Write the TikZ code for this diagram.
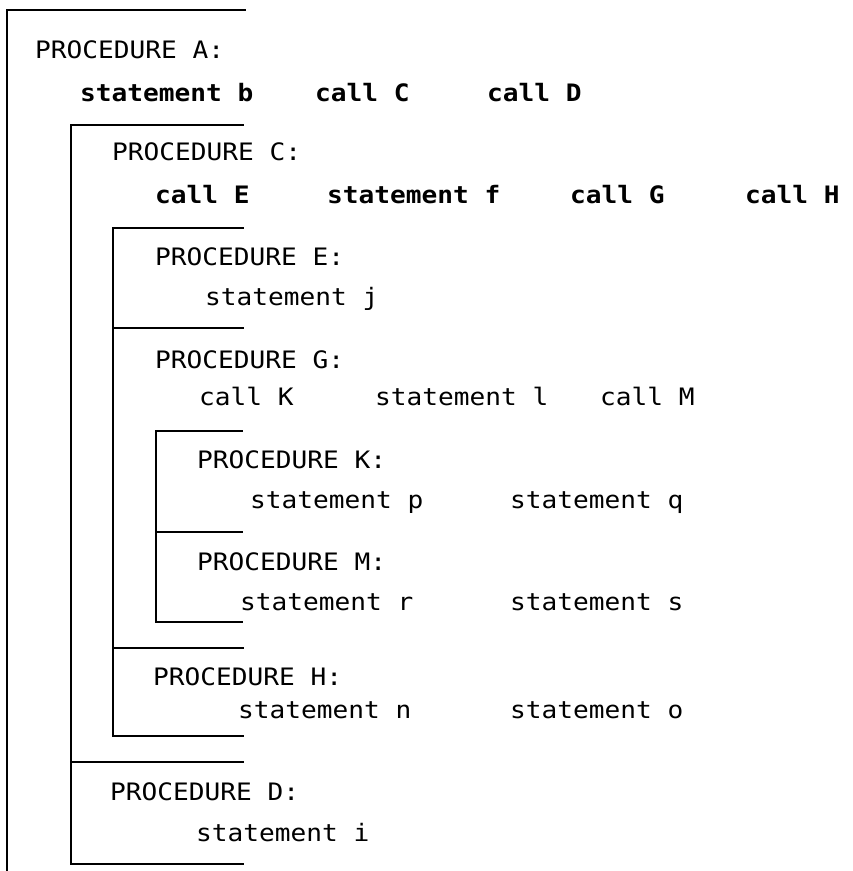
\documentclass[tikz,border=0pt]{standalone}
\usepackage{fontspec}
\setmonofont{DejaVu Sans Mono}[FakeStretch=1.09]
\tikzset{
  code/.style={anchor=base west, inner sep=0pt, font=\fontsize{24}{24}\selectfont\ttfamily},
  codeb/.style={code, font=\fontsize{24}{24}\selectfont\ttfamily\bfseries},
  rule/.style={line width=1.8pt, line cap=rect, line join=miter}
}
\begin{document}
\begin{tikzpicture}[x=1pt, y=-1pt]
\useasboundingbox (0,0) rectangle (853,871);

% nesting brackets
\draw[rule] (245,10) -- (7,10) -- (7,871);
\draw[rule] (243,125) -- (71,125) -- (71,864) -- (243,864);
\draw[rule] (71,762) -- (243,762);
\draw[rule] (243,228) -- (113,228) -- (113,736) -- (243,736);
\draw[rule] (113,328) -- (243,328);
\draw[rule] (113,648) -- (243,648);
\draw[rule] (242,431) -- (156,431) -- (156,622) -- (242,622);
\draw[rule] (156,532) -- (242,532);

% procedure A
\node[code]  (pA) at (35,58)  {PROCEDURE A:};
\node[codeb] (sb) at (80,101) {statement b};
\node[codeb] (cC) at (315,101) {call C};
\node[codeb] (cD) at (487,101) {call D};

% procedure C
\node[code]  (pC) at (112,160) {PROCEDURE C:};
\node[codeb] (cE) at (155,203) {call E};
\node[codeb] (sf) at (327,203) {statement f};
\node[codeb] (cG) at (570,203) {call G};
\node[codeb] (cH) at (745,203) {call H};

% procedure E
\node[code] (pE) at (155,265) {PROCEDURE E:};
\node[code] (sj) at (205,305) {statement j};

% procedure G
\node[code] (pG) at (155,368) {PROCEDURE G:};
\node[code] (cK) at (199,405) {call K};
\node[code] (sl) at (375,405) {statement l};
\node[code] (cM) at (600,405) {call M};

% procedure K
\node[code] (pK) at (197,468) {PROCEDURE K:};
\node[code] (sp) at (250,508) {statement p};
\node[code] (sq) at (510,508) {statement q};

% procedure M
\node[code] (pM) at (197,570) {PROCEDURE M:};
\node[code] (sr) at (240,610) {statement r};
\node[code] (ss) at (510,610) {statement s};

% procedure H
\node[code] (pH) at (153,685) {PROCEDURE H:};
\node[code] (sn) at (238,718) {statement n};
\node[code] (so) at (510,718) {statement o};

% procedure D
\node[code] (pD) at (110,800) {PROCEDURE D:};
\node[code] (si) at (196,841) {statement i};
\end{tikzpicture}
\end{document}
